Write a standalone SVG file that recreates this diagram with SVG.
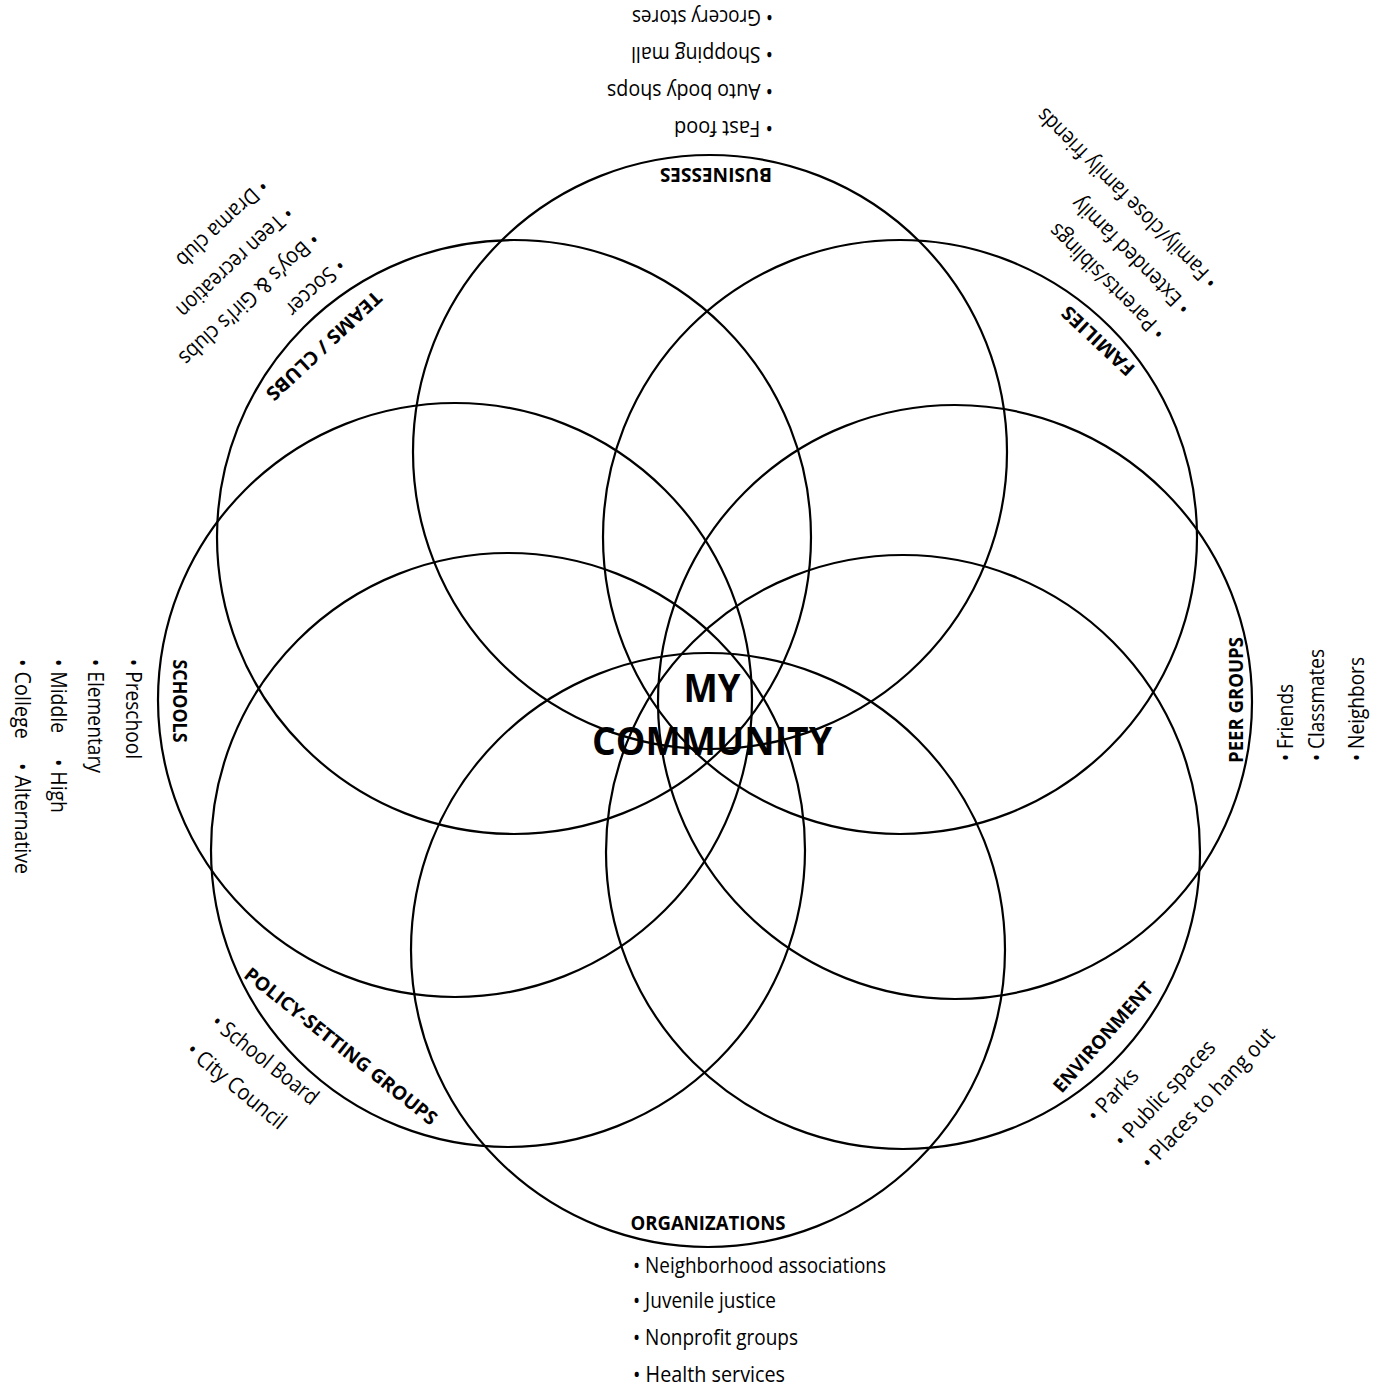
<svg xmlns="http://www.w3.org/2000/svg" width="1385" height="1386" viewBox="0 0 1385 1386">
<style>
.c{fill:none;stroke:#000;stroke-width:2.2}
.b{font-family:"Open Sans","Liberation Sans",sans-serif;font-size:22px;fill:#000}
.l{font-family:"Open Sans","Liberation Sans",sans-serif;font-size:19px;font-weight:bold;fill:#000;text-anchor:middle}
.t{font-family:"Open Sans","Liberation Sans",sans-serif;font-size:40px;font-weight:bold;fill:#000;text-anchor:middle}
</style>
<rect width="1385" height="1386" fill="#fff"/>
<g id="businesses">
<circle class="c" cx="710" cy="452" r="297"/>
<text class="l" transform="translate(716,175) rotate(180)" y="6.8" textLength="112" lengthAdjust="spacingAndGlyphs">BUSINESSES</text>
<text class="b" transform="translate(769,128) rotate(180)" x="-4" y="7" textLength="99" lengthAdjust="spacingAndGlyphs">• Fast food</text>
<text class="b" transform="translate(769,91) rotate(180)" x="-4" y="7" textLength="166" lengthAdjust="spacingAndGlyphs">• Auto body shops</text>
<text class="b" transform="translate(769,54) rotate(180)" x="-4" y="7" textLength="142" lengthAdjust="spacingAndGlyphs">• Shopping mall</text>
<text class="b" transform="translate(769,17) rotate(180)" x="-4" y="7" textLength="141" lengthAdjust="spacingAndGlyphs">• Grocery stores</text>
</g>
<g id="families">
<circle class="c" cx="900" cy="537" r="297"/>
<text class="l" transform="translate(1098,341) rotate(223)" y="6.8" textLength="92" lengthAdjust="spacingAndGlyphs">FAMILIES</text>
<text class="b" transform="translate(1159,333) rotate(225)" x="-4" y="7" textLength="154" lengthAdjust="spacingAndGlyphs">• Parents/siblings</text>
<text class="b" transform="translate(1184,308) rotate(225)" x="-4" y="7" textLength="157" lengthAdjust="spacingAndGlyphs">• Extended family</text>
<text class="b" transform="translate(1211,282) rotate(225)" x="-4" y="7" textLength="245" lengthAdjust="spacingAndGlyphs">• Family/close family friends</text>
</g>
<g id="peer-groups">
<circle class="c" cx="955" cy="702" r="297"/>
<text class="l" transform="translate(1236,700) rotate(-90)" y="6.8" textLength="126" lengthAdjust="spacingAndGlyphs">PEER GROUPS</text>
<text class="b" transform="translate(1286,757) rotate(-90)" x="-4" y="7" textLength="77" lengthAdjust="spacingAndGlyphs">• Friends</text>
<text class="b" transform="translate(1317,757) rotate(-90)" x="-4" y="7" textLength="112" lengthAdjust="spacingAndGlyphs">• Classmates</text>
<text class="b" transform="translate(1357,757) rotate(-90)" x="-4" y="7" textLength="104" lengthAdjust="spacingAndGlyphs">• Neighbors</text>
</g>
<g id="environment">
<circle class="c" cx="903" cy="852" r="297"/>
<text class="l" transform="translate(1103,1037) rotate(-48.5)" y="6.8" textLength="140" lengthAdjust="spacingAndGlyphs">ENVIRONMENT</text>
<text class="b" transform="translate(1094,1116) rotate(-47)" x="-4" y="7" textLength="64" lengthAdjust="spacingAndGlyphs">• Parks</text>
<text class="b" transform="translate(1121,1141) rotate(-47)" x="-4" y="7" textLength="137" lengthAdjust="spacingAndGlyphs">• Public spaces</text>
<text class="b" transform="translate(1148,1163) rotate(-47)" x="-4" y="7" textLength="184" lengthAdjust="spacingAndGlyphs">• Places to hang out</text>
</g>
<g id="organizations">
<circle class="c" cx="708" cy="950" r="297"/>
<text class="l" x="708" y="1230" textLength="155" lengthAdjust="spacingAndGlyphs">ORGANIZATIONS</text>
<text class="b" transform="translate(637,1266)" x="-4" y="7" textLength="253" lengthAdjust="spacingAndGlyphs">• Neighborhood associations</text>
<text class="b" transform="translate(637,1301)" x="-4" y="7" textLength="143" lengthAdjust="spacingAndGlyphs">• Juvenile justice</text>
<text class="b" transform="translate(637,1338)" x="-4" y="7" textLength="165" lengthAdjust="spacingAndGlyphs">• Nonprofit groups</text>
<text class="b" transform="translate(637,1375)" x="-4" y="7" textLength="152" lengthAdjust="spacingAndGlyphs">• Health services</text>
</g>
<g id="policy-setting-groups">
<circle class="c" cx="508" cy="850" r="297"/>
<text class="l" transform="translate(341,1046) rotate(38.5)" y="6.8" textLength="240" lengthAdjust="spacingAndGlyphs">POLICY-SETTING GROUPS</text>
<text class="b" transform="translate(217,1022) rotate(38.5)" x="-4" y="7" textLength="130" lengthAdjust="spacingAndGlyphs">• School Board</text>
<text class="b" transform="translate(192,1050) rotate(39.5)" x="-4" y="7" textLength="122" lengthAdjust="spacingAndGlyphs">• City Council</text>
</g>
<g id="schools">
<circle class="c" cx="455" cy="700" r="297"/>
<text class="l" transform="translate(180,701) rotate(90)" y="6.8" textLength="83" lengthAdjust="spacingAndGlyphs">SCHOOLS</text>
<text class="b" transform="translate(133,663) rotate(90)" x="-4" y="7" textLength="100" lengthAdjust="spacingAndGlyphs">• Preschool</text>
<text class="b" transform="translate(95,663) rotate(90)" x="-4" y="7" textLength="114" lengthAdjust="spacingAndGlyphs">• Elementary</text>
<text class="b" transform="translate(58,663) rotate(90)" x="-4" y="7" textLength="74" lengthAdjust="spacingAndGlyphs">• Middle</text>
<text class="b" transform="translate(58,763) rotate(90)" x="-4" y="7" textLength="54" lengthAdjust="spacingAndGlyphs">• High</text>
<text class="b" transform="translate(22,663) rotate(90)" x="-4" y="7" textLength="80" lengthAdjust="spacingAndGlyphs">• College</text>
<text class="b" transform="translate(22,767) rotate(90)" x="-4" y="7" textLength="111" lengthAdjust="spacingAndGlyphs">• Alternative</text>
</g>
<g id="teams-clubs">
<circle class="c" cx="514" cy="537" r="297"/>
<text class="l" transform="translate(324,346) rotate(137)" y="6.8" textLength="150" lengthAdjust="spacingAndGlyphs">TEAMS / CLUBS</text>
<text class="b" transform="translate(339,265) rotate(137)" x="-4" y="7" textLength="73" lengthAdjust="spacingAndGlyphs">• Soccer</text>
<text class="b" transform="translate(313,239) rotate(137)" x="-4" y="7" textLength="183" lengthAdjust="spacingAndGlyphs">• Boy’s &amp; Girl’s clubs</text>
<text class="b" transform="translate(287,213) rotate(137)" x="-4" y="7" textLength="151" lengthAdjust="spacingAndGlyphs">• Teen recreation</text>
<text class="b" transform="translate(262,186) rotate(137)" x="-4" y="7" textLength="117" lengthAdjust="spacingAndGlyphs">• Drama club</text>
</g>
<g id="my-community">
<text class="t" x="712" y="702" textLength="57" lengthAdjust="spacingAndGlyphs">MY</text>
<text class="t" x="712" y="755" textLength="240" lengthAdjust="spacingAndGlyphs">COMMUNITY</text>
</g>
</svg>
